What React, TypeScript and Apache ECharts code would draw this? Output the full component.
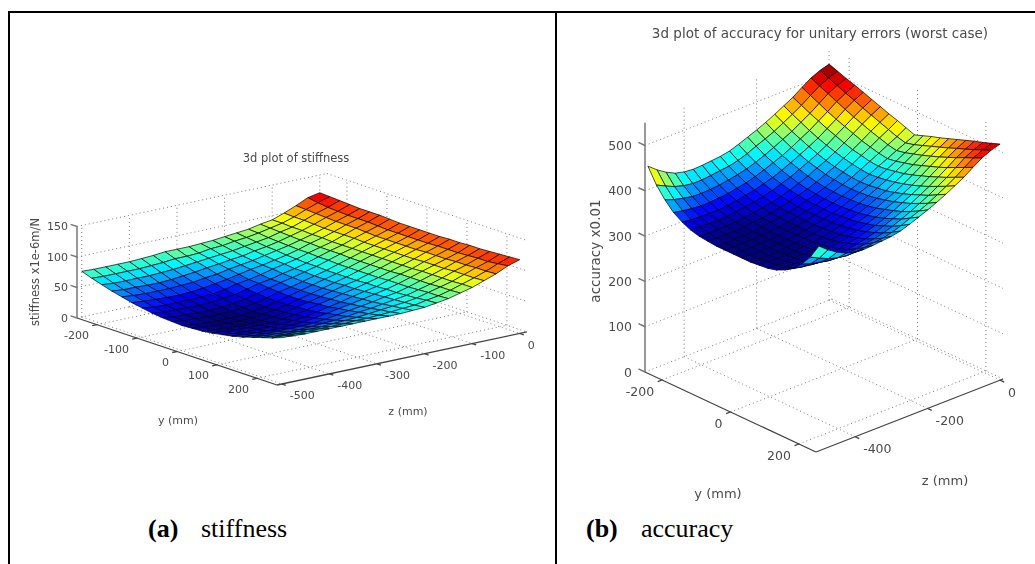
import React, { useEffect, useRef } from "react";
import * as echarts from "echarts";

// Rows run along z (-500 .. 0, step 25); columns run along y (-250 .. 250, step 25).
const stiffnessRows = [
  [75,69,64,59,55,51,48,45,43,42,41,42,43,45,48,51,55,60,65,70,76],
  [74,68,62,57,53,49,45,42,40,39,38,39,40,43,45,49,53,58,63,69,75],
  [74,68,62,57,52,48,44,42,39,38,37,38,39,42,44,48,52,57,62,68,74],
  [74,68,62,56,52,47,44,41,38,37,36,37,38,41,44,47,52,56,62,68,74],
  [74,68,62,56,52,47,44,41,38,37,36,37,38,41,44,47,52,56,62,68,74],
  [75,69,63,57,53,48,45,42,39,38,37,38,39,41,44,48,52,57,62,68,74],
  [76,70,64,59,54,50,46,44,41,40,39,40,41,43,46,49,53,58,63,68,74],
  [78,72,66,61,57,53,49,46,44,43,42,43,44,46,48,52,55,59,64,69,74],
  [78,72,68,64,59,56,54,51,49,48,47,47,49,50,52,55,58,61,65,69,74],
  [78,73,70,66,63,60,57,56,54,53,52,52,53,55,56,59,61,64,67,70,74],
  [79,76,72,69,66,64,61,59,59,57,57,57,58,59,60,62,64,66,69,71,74],
  [80,77,74,71,69,67,66,64,63,62,62,62,63,64,65,66,67,69,71,73,75],
  [82,80,77,75,73,71,70,68,68,67,67,67,68,68,69,70,71,72,73,74,76],
  [84,82,80,78,77,75,74,73,73,72,72,72,72,73,73,74,74,75,76,78,79],
  [86,85,83,82,81,80,80,79,79,78,78,78,78,78,79,79,79,80,81,81,82],
  [90,89,88,87,86,86,85,85,85,84,84,84,84,84,85,85,85,85,86,86,87],
  [93,93,92,92,91,91,90,90,90,90,90,90,90,90,90,91,91,91,91,92,92],
  [100,99,99,98,97,97,97,97,96,96,96,96,96,96,97,97,97,98,98,98,99],
  [108,107,106,105,104,104,104,103,102,102,102,102,102,103,103,103,104,104,105,105,106],
  [117,114,112,111,110,110,110,109,108,108,108,108,108,109,109,109,110,111,111,113,115],
  [121,120,119,118,117,117,117,116,115,115,115,115,115,116,116,117,117,118,119,120,121],
];

const accuracyRows = [
  [452,419,395,376,364,355,350,348,346,346,346,346,346,348,350,355,364,376,395,419,452],
  [436,409,388,372,361,354,349,347,345,345,345,345,345,347,349,354,361,372,388,409,436],
  [423,400,383,369,360,353,349,347,345,345,345,345,345,347,349,353,360,369,383,400,423],
  [413,394,379,367,359,353,349,347,345,345,345,345,345,347,349,353,359,367,379,394,413],
  [408,391,378,367,359,354,350,348,346,346,346,346,346,348,350,354,359,367,378,391,408],
  [406,391,379,369,361,356,352,350,349,348,348,348,349,350,352,356,361,369,379,391,406],
  [407,393,381,371,364,359,355,352,351,350,350,350,351,352,355,359,364,371,381,393,407],
  [409,396,384,375,368,362,358,355,354,353,353,353,354,355,358,362,368,375,384,396,409],
  [411,398,388,379,372,367,362,360,358,357,357,357,358,360,362,367,372,379,388,398,411],
  [415,403,393,385,378,372,368,365,363,362,362,362,363,365,368,372,378,385,393,403,415],
  [422,410,400,392,384,379,374,371,369,367,367,367,369,371,374,379,384,392,400,410,422],
  [430,419,408,400,392,386,381,377,375,373,373,373,375,377,381,386,392,400,408,419,430],
  [438,427,417,408,401,395,389,385,382,381,380,381,382,385,389,395,401,408,417,427,438],
  [447,436,427,418,411,404,399,394,391,389,388,389,391,394,399,404,411,418,427,436,447],
  [457,447,437,429,421,414,408,403,400,397,396,397,400,403,408,414,421,429,437,447,457],
  [468,458,449,440,432,425,419,414,410,407,405,407,410,414,419,425,432,440,449,458,468],
  [479,470,461,453,445,438,431,425,421,417,415,417,421,425,431,438,445,453,461,470,479],
  [493,484,475,466,458,451,444,437,432,427,424,427,432,437,444,451,458,466,475,484,493],
  [506,497,489,480,472,464,457,450,444,438,434,438,444,450,457,464,472,480,489,497,506],
  [515,507,499,491,484,476,469,462,455,448,443,448,455,462,469,476,484,491,499,507,515],
  [521,514,507,501,494,487,480,473,467,460,453,460,467,473,480,487,494,501,507,514,521],
];

const stiffnessYTicks = [-200, -100, 0, 100, 200];
const stiffnessZTicks = [-500, -400, -300, -200, -100, 0];
const stiffnessVTicks = [0, 50, 100, 150];
const accuracyYTicks = [-200, 0, 200];
const accuracyZTicks = [-400, -200, 0];
const accuracyVTicks = [0, 100, 200, 300, 400, 500];

const FONT = '"DejaVu Sans", sans-serif';
const TEXT_COLOR = "#4a4a4a";

type Panel = {
  rows: number[][];
  yTicks: number[];
  zTicks: number[];
  vTicks: number[];
  yLim: [number, number];
  zLim: [number, number];
  vMax: number;
  colorLim: [number, number];
  left: [number, number];
  yVec: [number, number];
  zVec: [number, number];
  vScale: number;
  fontSize: number;
  vLabelX: number;
  tickLen: number;
};

const panelA: Panel = {
  rows: stiffnessRows,
  yTicks: stiffnessYTicks,
  zTicks: stiffnessZTicks,
  vTicks: stiffnessVTicks,
  yLim: [-250, 250],
  zLim: [-510, 15],
  vMax: 150,
  colorLim: [36, 128],
  left: [77, 318],
  yVec: [0.4, 0.134],
  zVec: [0.476, -0.101],
  vScale: 0.61,
  fontSize: 11,
  vLabelX: 68,
  tickLen: 10,
};

const panelB: Panel = {
  rows: accuracyRows,
  yTicks: accuracyYTicks,
  zTicks: accuracyZTicks,
  vTicks: accuracyVTicks,
  yLim: [-250, 250],
  zLim: [-508, 8],
  vMax: 550,
  colorLim: [345, 521],
  left: [645, 372],
  yVec: [0.342, 0.16],
  zVec: [0.3624, -0.1415],
  vScale: 0.453,
  fontSize: 12.5,
  vLabelX: 632,
  tickLen: 12,
};

function project(p: Panel, y: number, z: number, v: number): [number, number] {
  const dy = y - p.yLim[0];
  const dz = z - p.zLim[0];
  return [
    p.left[0] + dy * p.yVec[0] + dz * p.zVec[0],
    p.left[1] + dy * p.yVec[1] + dz * p.zVec[1] - v * p.vScale,
  ];
}

function jet(t: number): string {
  const level = Math.min(63, Math.max(0, Math.floor(t * 64)));
  const x = (level + 0.5) / 64;
  const ch = (c: number) => Math.round(255 * Math.max(0, Math.min(1, 1.5 - Math.abs(4 * x - c))));
  return `rgb(${ch(3)},${ch(2)},${ch(1)})`;
}

const rowZ = (i: number) => -500 + i * 25;
const colY = (j: number) => -250 + j * 25;

function surfaceSeries(p: Panel) {
  const [lo, hi] = p.colorLim;
  const cells: number[][] = [];
  for (let i = 0; i < p.rows.length - 1; i++) {
    for (let j = 0; j < p.rows[i].length - 1; j++) {
      const c = project(p, colY(j) + 12.5, rowZ(i) + 12.5, 0);
      cells.push([i, j, c[1]]);
    }
  }
  cells.sort((a, b) => a[2] - b[2]);
  return {
    type: "custom",
    silent: true,
    clip: false,
    z: 5,
    data: cells,
    renderItem: (_: any, api: any) => {
      const i = api.value(0);
      const j = api.value(1);
      const corners = [
        [i, j],
        [i, j + 1],
        [i + 1, j + 1],
        [i + 1, j],
      ].map(([a, b]) => api.coord(project(p, colY(b), rowZ(a), p.rows[a][b])));
      return {
        type: "polygon",
        shape: { points: corners },
        style: {
          fill: jet((p.rows[i][j] - lo) / (hi - lo)),
          stroke: "rgba(0,0,0,0.78)",
          lineWidth: 0.9,
        },
      };
    },
  };
}

function linesSeries(segments: number[][][], stroke: string, lineWidth: number, dash: number[] | null, z: number) {
  return {
    type: "custom",
    silent: true,
    clip: false,
    z,
    data: segments.map((_, k) => [k]),
    renderItem: (_: any, api: any) => {
      const s = segments[api.value(0)];
      const a = api.coord(s[0]);
      const b = api.coord(s[1]);
      return {
        type: "line",
        shape: { x1: a[0], y1: a[1], x2: b[0], y2: b[1] },
        style: { stroke, lineWidth, lineDash: dash || undefined, fill: null },
      };
    },
  };
}

function labelSeries(
  items: { text: string; at: [number, number] }[],
  align: string,
  fontSize: number,
) {
  return {
    type: "custom",
    silent: true,
    clip: false,
    z: 6,
    data: items.map((_, k) => [k]),
    renderItem: (_: any, api: any) => {
      const it = items[api.value(0)];
      const c = api.coord(it.at);
      return {
        type: "text",
        x: c[0],
        y: c[1],
        style: {
          text: it.text,
          fill: TEXT_COLOR,
          font: `${fontSize}px ${FONT}`,
          align,
          verticalAlign: "middle",
        },
      };
    },
  };
}

function panelSeries(p: Panel) {
  const [y0, y1] = p.yLim;
  const [z0, z1] = p.zLim;
  const grid: number[][][] = [];
  for (const y of p.yTicks) {
    grid.push([project(p, y, z0, 0), project(p, y, z1, 0)]);
    grid.push([project(p, y, z1, 0), project(p, y, z1, p.vMax)]);
  }
  for (const z of p.zTicks) {
    grid.push([project(p, y0, z, 0), project(p, y1, z, 0)]);
    grid.push([project(p, y0, z, 0), project(p, y0, z, p.vMax)]);
  }
  for (const v of p.vTicks) {
    grid.push([project(p, y0, z0, v), project(p, y0, z1, v)]);
    grid.push([project(p, y0, z1, v), project(p, y1, z1, v)]);
  }
  const axes: number[][][] = [
    [project(p, y0, z0, 0), project(p, y1, z0, 0)],
    [project(p, y1, z0, 0), project(p, y1, z1, 0)],
  ];
  for (const y of p.yTicks) axes.push([project(p, y, z0, 0), project(p, y, z0 - p.tickLen, 0)]);
  for (const z of p.zTicks) axes.push([project(p, y1, z, 0), project(p, y1 + p.tickLen, z, 0)]);
  const vAxis: number[][][] = [[project(p, y0, z0, 0), project(p, y0, z0, p.vMax)]];
  for (const v of p.vTicks) vAxis.push([project(p, y0, z0, v), project(p, y0 - p.tickLen * 1.6, z0, v)]);

  const yLabels = p.yTicks.map((y) => {
    const c = project(p, y, z0, 0);
    return { text: String(y), at: [c[0] - 8, c[1] + 11] as [number, number] };
  });
  const zLabels = p.zTicks.map((z) => {
    const c = project(p, y1, z, 0);
    return { text: String(z), at: [c[0] + 8, c[1] + 12] as [number, number] };
  });
  const vLabels = p.vTicks.map((v) => ({
    text: String(v),
    at: [p.vLabelX, project(p, y0, z0, v)[1]] as [number, number],
  }));

  return [
    linesSeries(grid, "#7c7c7c", 1, [1, 3], 1),
    linesSeries(axes, "#444444", 1.3, null, 2),
    linesSeries(vAxis, "#777777", 1.5, null, 2),
    surfaceSeries(p),
    labelSeries(yLabels, "right", p.fontSize),
    labelSeries(zLabels, "left", p.fontSize),
    labelSeries(vLabels, "right", p.fontSize),
  ];
}

const frameLine = (x1: number, y1: number, x2: number, y2: number) => ({
  type: "line",
  shape: { x1, y1, x2, y2 },
  style: { stroke: "#000", lineWidth: 2 },
  z: 10,
});

const plotText = (text: string, x: number, y: number, fontSize: number, rotation = 0) => ({
  type: "text",
  x,
  y,
  rotation,
  z: 10,
  style: {
    text,
    fill: TEXT_COLOR,
    font: `${fontSize}px ${FONT}`,
    align: "center",
    verticalAlign: "middle",
  },
});

const caption = (text: string, x: number, bold: boolean) => ({
  type: "text",
  x,
  y: 528,
  z: 10,
  style: {
    text,
    fill: "#000",
    font: `${bold ? "bold " : ""}26px "Liberation Serif", serif`,
    align: "left",
    verticalAlign: "middle",
  },
});

const layer = (blur: boolean): React.CSSProperties => ({
  position: "absolute",
  left: 0,
  top: 0,
  width: 1035,
  height: 564,
  filter: blur ? "blur(0.55px)" : undefined,
});

export default function App() {
  const plots = useRef<HTMLDivElement>(null);
  const sheet = useRef<HTMLDivElement>(null);
  useEffect(() => {
    document.body.style.margin = "0";
    const plotChart = echarts.init(plots.current!, null, { renderer: "svg" });
    plotChart.setOption({
      animation: false,
      backgroundColor: "#ffffff",
      grid: { left: 0, right: 0, top: 0, bottom: 0 },
      xAxis: { type: "value", min: 0, max: 1035, show: false },
      yAxis: { type: "value", min: 0, max: 564, inverse: true, show: false },
      tooltip: { show: false },
      series: [...panelSeries(panelA), ...panelSeries(panelB)],
      graphic: [
        plotText("3d plot of stiffness", 296, 158, 11.5),
        plotText("stiffness x1e-6m/N", 35, 272, 11.5, Math.PI / 2),
        plotText("y (mm)", 178, 420, 11),
        plotText("z (mm)", 408, 411, 11),
        plotText("3d plot of accuracy for unitary errors (worst case)", 820, 33, 13.5),
        plotText("accuracy x0.01", 595, 251, 13.5, Math.PI / 2),
        plotText("y (mm)", 718, 493, 13),
        plotText("z (mm)", 945, 480, 13),
      ],
    });
    const sheetChart = echarts.init(sheet.current!, null, { renderer: "svg" });
    sheetChart.setOption({
      animation: false,
      graphic: [
        frameLine(8, 12, 1035, 12),
        frameLine(9, 12, 9, 564),
        frameLine(556, 12, 556, 564),
        caption("(a)", 148, true),
        caption("stiffness", 201, false),
        caption("(b)", 586, true),
        caption("accuracy", 641, false),
      ],
    });
    return () => {
      plotChart.dispose();
      sheetChart.dispose();
    };
  }, []);
  return (
    <div style={{ position: "relative", width: 1035, height: 564, overflow: "hidden" }}>
      <div ref={plots} style={layer(true)} />
      <div ref={sheet} style={layer(false)} />
    </div>
  );
}
